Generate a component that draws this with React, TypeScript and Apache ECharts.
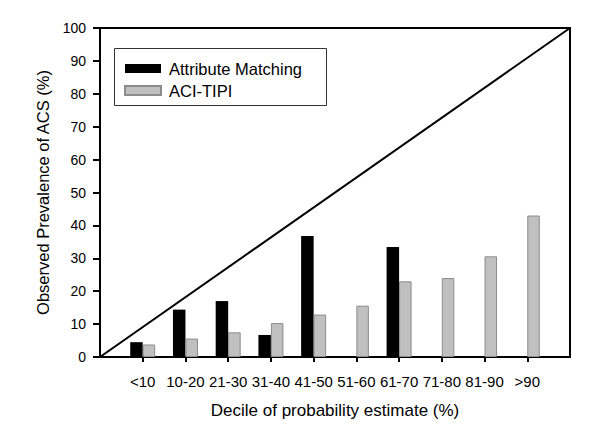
import React, { useEffect, useRef } from "react";
import * as echarts from "echarts";

const categories = ["", "<10", "10-20", "21-30", "31-40", "41-50", "51-60", "61-70", "71-80", "81-90", ">90", ""];
const attributeMatching = [null, 4.5, 14.4, 17.0, 6.7, 36.8, null, 33.4, null, null, null, null];
const aciTipi = [null, 3.8, 5.6, 7.5, 10.3, 12.9, 15.6, 23.0, 24.0, 30.6, 43.0, null];
const diagonal = [0, null, null, null, null, null, null, null, null, null, null, 100];
const yTicks = { min: 0, max: 100, interval: 10 };

const FONT = "'Liberation Sans', Arial, Helvetica, sans-serif";

export default function App() {
  const ref = useRef<HTMLDivElement>(null);
  useEffect(() => {
    if (!ref.current) return;
    const chart = echarts.init(ref.current, undefined, { renderer: "svg" });
    chart.setOption({
      animation: false,
      backgroundColor: "#ffffff",
      textStyle: { fontFamily: FONT, color: "#000" },
      grid: {
        left: 100,
        right: 30,
        top: 28,
        bottom: 88,
        show: true,
        borderColor: "#000",
        borderWidth: 2,
        outerBoundsMode: "none",
      },
      graphic: [
        {
          type: "rect",
          shape: { x: 114.5, y: 48.5, width: 212, height: 57 },
          style: { fill: "none", stroke: "#333", lineWidth: 1 },
          silent: true,
          z: 10,
        },
      ],
      legend: {
        orient: "vertical",
        left: 114,
        top: 48,
        padding: [12, 10, 8, 10],
        itemWidth: 36,
        itemHeight: 9,
        itemGap: 5,
        icon: "rect",
        borderWidth: 0,
        data: ["Attribute Matching", "ACI-TIPI"],
        textStyle: { fontFamily: FONT, fontSize: 16.5, color: "#000", padding: [0, 0, 0, 3] },
      },
      xAxis: {
        type: "category",
        data: categories,
        boundaryGap: false,
        name: "Decile of probability estimate (%)",
        nameLocation: "middle",
        nameGap: 45,
        nameTextStyle: { fontFamily: FONT, fontSize: 17, color: "#000" },
        axisLine: { lineStyle: { color: "#000", width: 2 } },
        axisTick: {
          length: 5,
          lineStyle: { color: "#000", width: 2 },
          interval: (index: number) => index > 0 && index < categories.length - 1,
        },
        axisLabel: { interval: 0, margin: 17, fontFamily: FONT, fontSize: 15, color: "#000" },
        splitLine: { show: false },
      },
      yAxis: {
        type: "value",
        min: yTicks.min,
        max: yTicks.max,
        interval: yTicks.interval,
        name: "Observed Prevalence of ACS (%)",
        nameLocation: "middle",
        nameGap: 49,
        nameTextStyle: { fontFamily: FONT, fontSize: 16.5, color: "#000" },
        axisLine: { show: true, lineStyle: { color: "#000", width: 2 } },
        axisTick: { show: true, length: 7, lineStyle: { color: "#000", width: 2 } },
        axisLabel: { margin: 14, fontFamily: FONT, fontSize: 14, color: "#000" },
        splitLine: { show: false },
      },
      series: [
        {
          name: "Attribute Matching",
          type: "bar",
          data: attributeMatching,
          barWidth: 12.5,
          barGap: "0%",
          itemStyle: { color: "#000000" },
        },
        {
          name: "ACI-TIPI",
          type: "bar",
          data: aciTipi,
          barWidth: 12.5,
          barGap: "0%",
          itemStyle: { color: "#c0c0c0", borderColor: "#8c8c8c", borderWidth: 1 },
        },
        {
          name: "diagonal",
          type: "line",
          data: diagonal,
          connectNulls: true,
          symbol: "none",
          silent: true,
          lineStyle: { color: "#000", width: 2 },
          z: 5,
        },
      ],
    });
    return () => chart.dispose();
  }, []);
  return (
    <div
      ref={ref}
      style={{ position: "absolute", left: 0, top: 0, width: 600, height: 445, background: "#fff" }}
    />
  );
}
